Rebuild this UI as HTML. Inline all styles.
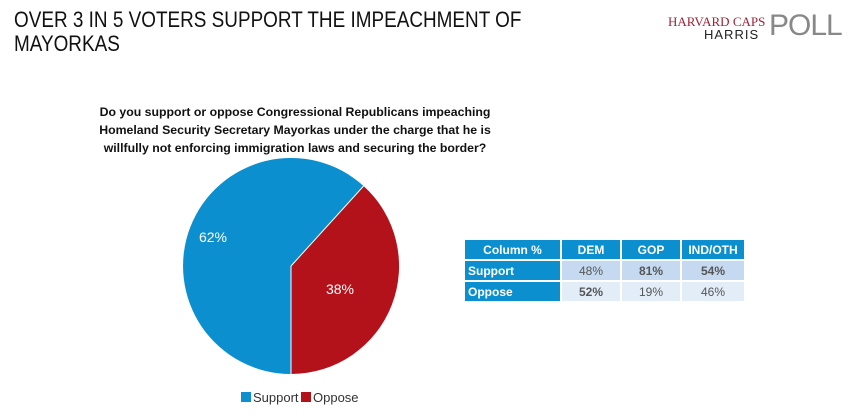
<!DOCTYPE html>
<html><head><style>
body{margin:0;width:848px;height:416px;background:#fff;font-family:"Liberation Sans",sans-serif;position:relative;overflow:hidden}
.t{position:absolute;left:14px;top:8px;font-size:22px;line-height:24px;color:#111;transform:scaleX(0.86);transform-origin:0 0;white-space:nowrap}
.q{position:absolute;left:80px;top:103px;width:430px;text-align:center;font-size:12.3px;font-weight:bold;line-height:18px;color:#111}
table{position:absolute;left:465px;top:240px;border-collapse:separate;border-spacing:2px 2px;font-size:12px;margin:-2px}
td{height:19px;padding:0;text-align:center;color:#555}
</style></head><body>
<div class="t">OVER 3 IN 5 VOTERS SUPPORT THE IMPEACHMENT OF<br>MAYORKAS</div>
<div style="position:absolute;left:668px;top:14px;font-family:'Liberation Serif',serif;font-size:13px;color:#9b2335;white-space:nowrap">HARVARD CAPS</div>
<div style="position:absolute;left:704px;top:27px;font-size:13px;color:#222;letter-spacing:1px">HARRIS</div>
<div style="position:absolute;left:769px;top:9px;font-size:30px;color:#888;letter-spacing:-1px">POLL</div>
<div class="q">Do you support or oppose Congressional Republicans impeaching Homeland Security Secretary Mayorkas under the charge that he is willfully not enforcing immigration laws and securing the border?</div>
<svg style="position:absolute;left:0;top:0" width="848" height="416">
<path d="M291,266 L363.6,186 A108,108 0 0 1 291,374 Z" fill="#b3121a"/>
<path d="M291,266 L291,374 A108,108 0 1 1 363.6,186 Z" fill="#0b8fcf"/>
<line x1="291" y1="266" x2="363.6" y2="186" stroke="#fff" stroke-width="1"/>
<line x1="291" y1="266" x2="291" y2="374" stroke="#fff" stroke-width="1"/>
<text x="213" y="242" fill="#fff" font-size="14" text-anchor="middle">62%</text>
<text x="340" y="294" fill="#fff" font-size="14" text-anchor="middle">38%</text>
<rect x="241" y="392" width="10" height="10" fill="#0b8fcf"/>
<text x="253" y="402" font-size="13" fill="#333">Support</text>
<rect x="301" y="392" width="10" height="10" fill="#b3121a"/>
<text x="313" y="402" font-size="13" fill="#333">Oppose</text>
</svg>
<table>
<tr style="background:#0b8fcf;font-weight:bold"><td style="width:95px;color:#fff;height:17px">Column %</td><td style="width:58px;color:#fff">DEM</td><td style="width:58px;color:#fff">GOP</td><td style="width:62px;color:#fff">IND/OTH</td></tr>
<tr><td style="background:#0b8fcf;color:#fff;font-weight:bold;text-align:left;padding-left:3px">Support</td><td style="background:#c5daf0">48%</td><td style="background:#c5daf0;font-weight:bold">81%</td><td style="background:#c5daf0;font-weight:bold">54%</td></tr>
<tr><td style="background:#0b8fcf;color:#fff;font-weight:bold;text-align:left;padding-left:3px">Oppose</td><td style="background:#e3edf8;font-weight:bold">52%</td><td style="background:#e3edf8">19%</td><td style="background:#e3edf8">46%</td></tr>
</table>
</body></html>
